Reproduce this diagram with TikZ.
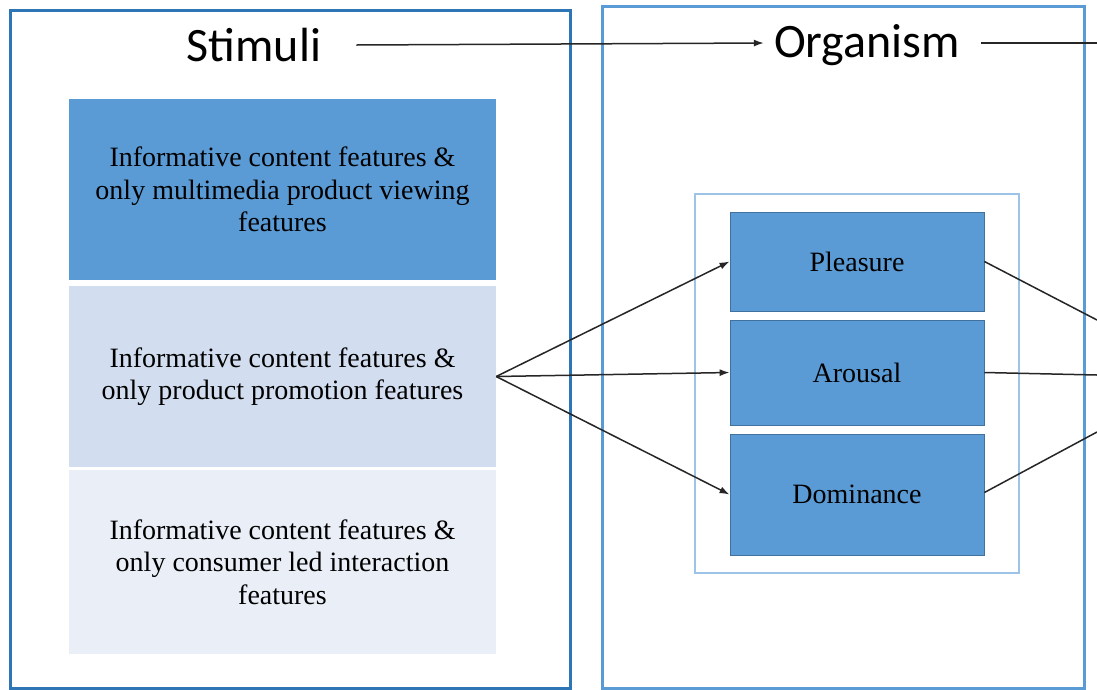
\documentclass[tikz,border=0pt]{standalone}
\usepackage{fontspec}
\setmainfont{Liberation Serif}
\newfontfamily\titlefont{Carlito}
\usetikzlibrary{arrows.meta}
\definecolor{darkframe}{HTML}{2E75B6}
\definecolor{midblue}{HTML}{5B9BD5}
\definecolor{paleframe}{HTML}{9DC3E6}
\definecolor{edgeblue}{HTML}{41719C}
\definecolor{tintA}{HTML}{D2DEEF}
\definecolor{tintB}{HTML}{E9EEF7}
\tikzset{
  title/.style={font=\titlefont\fontsize{48}{52}\selectfont, inner sep=0pt},
  featurebox/.style={minimum width=427pt, inner sep=0pt, align=center,
    font=\fontsize{28}{32.5}\selectfont},
  padbox/.style={fill=midblue, draw=edgeblue, line width=0.8pt,
    minimum width=254pt, inner sep=0pt, font=\fontsize{28}{32}\selectfont},
  link/.style={line width=1.5pt, draw=black!85},
  arr/.style={link, -{Latex[length=10pt,width=7pt]}}
}
\begin{document}
\begin{tikzpicture}[x=1pt,y=-1pt]
\useasboundingbox (0,0) rectangle (1097,689);
\fill[white] (0,0) rectangle (1097,689);

% outer panels
\draw[darkframe, line width=3pt] (10,10) rectangle (570,688);
\draw[midblue, line width=3pt] (602,6) rectangle (1084,688);

% panel titles
\node[title] (stimt) at (254,45) {Stimuli};
\node[title] (orgt) at (867,45) {Organism};
\coordinate (outtop) at (1097,43);
\draw[arr] ([xshift=35pt]stimt.east) -- ([xshift=-10pt,yshift=2pt]orgt.west);
\draw[link] ([xshift=21pt,yshift=2pt]orgt.east) -- (outtop);

% stimulus conditions
\node[featurebox, fill=midblue, minimum height=181pt] (s1) at (282.5,189.5)
  {Informative content features \&\\only multimedia product viewing\\features};
\node[featurebox, fill=tintA, minimum height=181pt] (s2) at (282.5,376.5)
  {Informative content features \&\\only product promotion features};
\node[featurebox, fill=tintB, minimum height=184pt] (s3) at (282.5,562)
  {Informative content features \&\\only consumer led interaction\\features};

% PAD states
\draw[paleframe, line width=1.5pt] (695,194) rectangle (1019,573);
\node[padbox, minimum height=99pt] (p) at (857,261.5) {Pleasure};
\node[padbox, minimum height=105pt] (a) at (857,372.5) {Arousal};
\node[padbox, minimum height=121pt] (d) at (857,494.5) {Dominance};

\draw[arr] (s2.east) -- (p.west);
\draw[arr] (s2.east) -- (a.west);
\draw[arr] (s2.east) -- (d.west);

% links leaving towards the response panel
\coordinate (rp) at (1097,320);
\coordinate (ra) at (1097,375);
\coordinate (rd) at (1097,432);
\draw[link] (p.east) -- (rp);
\draw[link] (a.east) -- (ra);
\draw[link] ([yshift=2pt]d.east) -- (rd);
\end{tikzpicture}
\end{document}
